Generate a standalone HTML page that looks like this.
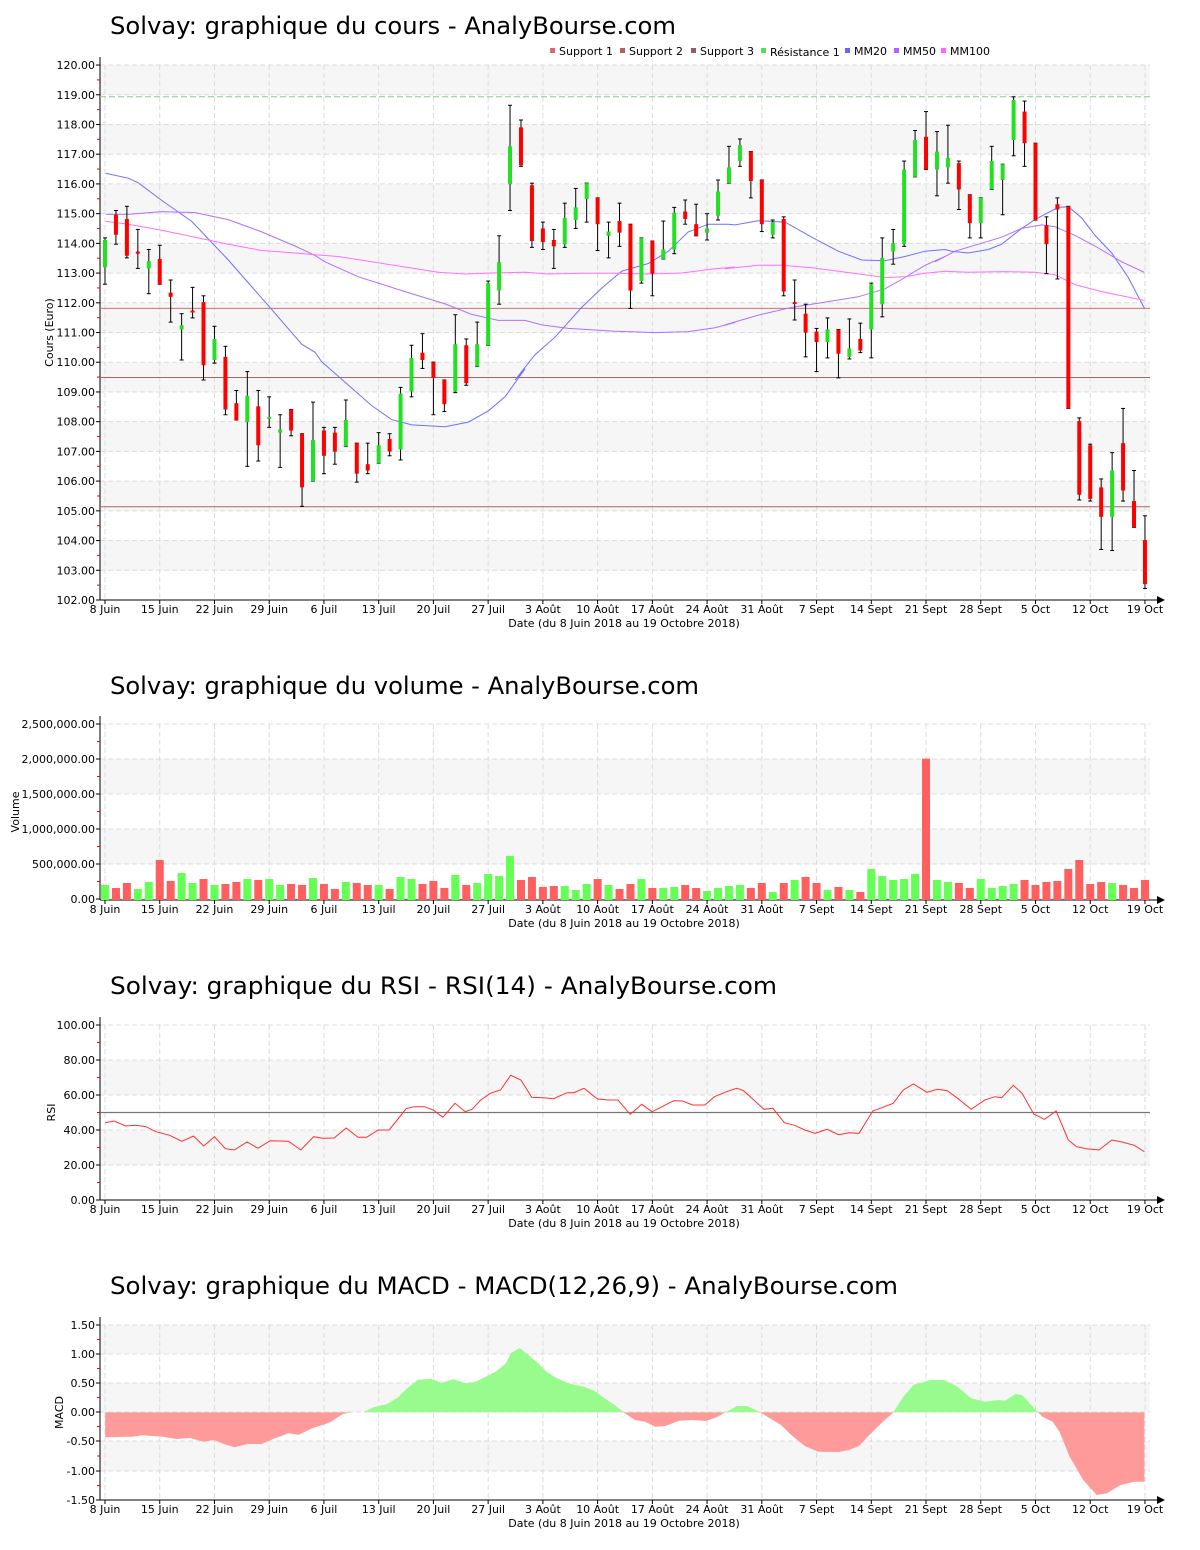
<!DOCTYPE html>
<html><head><meta charset="utf-8"><style>
html,body{margin:0;padding:0;background:#fff;}
svg{display:block;font-family:"DejaVu Sans","Liberation Sans",sans-serif;}
</style></head><body>
<svg id="s" xmlns="http://www.w3.org/2000/svg" width="1200" height="1550" viewBox="0 0 1200 1550">
<text x="110" y="34" font-size="24" textLength="566" lengthAdjust="spacingAndGlyphs">Solvay: graphique du cours - AnalyBourse.com</text>
<text x="110" y="694" font-size="24" textLength="589" lengthAdjust="spacingAndGlyphs">Solvay: graphique du volume - AnalyBourse.com</text>
<text x="110" y="994" font-size="24" textLength="667" lengthAdjust="spacingAndGlyphs">Solvay: graphique du RSI - RSI(14) - AnalyBourse.com</text>
<text x="110" y="1294" font-size="24" textLength="788" lengthAdjust="spacingAndGlyphs">Solvay: graphique du MACD - MACD(12,26,9) - AnalyBourse.com</text>
<g font-size="11">
<rect x="550" y="48" width="5" height="5" fill="#e06666"/><text x="559" y="55">Support 1</text>
<rect x="620" y="48" width="5" height="5" fill="#b06060"/><text x="629" y="55">Support 2</text>
<rect x="691" y="48" width="5" height="5" fill="#906060"/><text x="700" y="55">Support 3</text>
<rect x="761" y="48" width="5" height="5" fill="#55dd55"/><text x="770" y="56">Résistance 1</text>
<rect x="845" y="48" width="5" height="5" fill="#6666ff"/><text x="854" y="55">MM20</text>
<rect x="894" y="48" width="5" height="5" fill="#aa66ff"/><text x="903" y="55">MM50</text>
<rect x="941" y="48" width="5" height="5" fill="#ff66ff"/><text x="950" y="55">MM100</text>
</g>
</svg>
<script>
var S=document.getElementById('s'),NS='http://www.w3.org/2000/svg';
function el(t,a,txt){var e=document.createElementNS(NS,t);for(var k in a)e.setAttribute(k,a[k]);if(txt!=null)e.textContent=txt;S.appendChild(e);return e;}
function xi(i){return 105+10.947*i;}
var weeks=['8 Juin','15 Juin','22 Juin','29 Juin','6 Juil','13 Juil','20 Juil','27 Juil','3 Août','10 Août','17 Août','24 Août','31 Août','7 Sept','14 Sept','21 Sept','28 Sept','5 Oct','12 Oct','19 Oct'];
function frame(yTop,yBot,labels,bands,title,tx){
 // labels: [[y,text]]
 bands.forEach(function(b){el('rect',{x:100,y:b[0],width:1050,height:b[1]-b[0],fill:'#f6f6f6'});});
 labels.forEach(function(l){el('line',{x1:100,y1:l[0],x2:1150,y2:l[0],stroke:'#dcdcdc','stroke-dasharray':'5,3'});});
 for(var k=0;k<20;k++){var x=xi(5*k);el('line',{x1:x,y1:yTop,x2:x,y2:yBot,stroke:'#dcdcdc','stroke-dasharray':'5,3'});}
 el('line',{x1:100,y1:yTop-8,x2:100,y2:yBot,stroke:'#000'});
 for(var j=0;j<labels.length;j++){var l=labels[j];
  el('line',{x1:96,y1:l[0],x2:100,y2:l[0],stroke:'#000'});
  el('text',{x:95,y:l[0]+4,'font-size':11,'text-anchor':'end'},l[1]);
  if(j<labels.length-1){var m=(l[0]+labels[j+1][0])/2;el('line',{x1:97,y1:m,x2:100,y2:m,stroke:'#e00'});}
 }
 el('line',{x1:100,y1:yBot,x2:1158,y2:yBot,stroke:'#000'});
 el('polygon',{points:(1157)+','+(yBot-4)+' 1165,'+yBot+' '+1157+','+(yBot+4),fill:'#000'});
 for(var k=0;k<20;k++){var x=xi(5*k);el('line',{x1:x,y1:yBot,x2:x,y2:yBot+4,stroke:'#000'});
  el('text',{x:x,y:yBot+13,'font-size':11,'text-anchor':'middle'},weeks[k]);}
 el('text',{x:624,y:yBot+27,'font-size':11,'text-anchor':'middle'},'Date (du 8 Juin 2018 au 19 Octobre 2018)');
 el('text',{x:0,y:0,'font-size':11,'text-anchor':'middle',transform:'translate('+tx+','+((yTop+yBot)/2)+') rotate(-90)'},title);
}
// ---------- Candle chart ----------
function cyv(v){return 600-(v-102)*29.72;}
var lab=[],bands=[];
for(var v=120;v>=102;v--){lab.push([cyv(v),v.toFixed(2)]);}
for(var v=120;v>103;v-=2){bands.push([cyv(v),cyv(v-1)]);}
frame(65,600,lab,bands,'Cours (Euro)',53);
el('line',{x1:100,y1:96.8,x2:1150,y2:96.8,stroke:'#88cc88','stroke-dasharray':'6,3'});
el('line',{x1:100,y1:308.4,x2:1150,y2:308.4,stroke:'#d07070'});
el('line',{x1:100,y1:377.5,x2:1150,y2:377.5,stroke:'#a06868'});
el('line',{x1:100,y1:506.7,x2:1150,y2:506.7,stroke:'#b06868'});
function cz(z){return 60+z/2.85;}
function ma(pts,col){var s='';pts.forEach(function(seg){var x0=seg[0];seg[1].forEach(function(p){s+=(x0+p[0]/3).toFixed(1)+','+cz(p[1]).toFixed(1)+' ';});});
 el('polyline',{points:s,fill:'none',stroke:col,'stroke-width':1});}
ma([[95,[[32,323],[100,337],[130,350],[200,400],[290,460],[400,570],[520,700],[620,810],[660,833]]],
[305,[[50,860],[110,910],[200,985],[260,1025],[320,1040],[420,1045],[490,1032],[550,1000],[600,960],[660,880]]],
[515,[[0,912],[60,840],[120,790],[200,705],[260,650],[320,602],[400,580],[460,545],[520,490],[580,468],[640,468],[660,470]]],
[725,[[100,458],[180,462],[260,505],[340,545],[410,570],[480,572],[540,560],[600,545],[660,540]]],
[935,[[50,545],[100,550],[160,540],[200,525],[260,480],[300,455],[340,435],[370,420],[400,418],[440,450],[480,500],[530,550],[580,620],[628,707]]]],'#7070ff');
ma([[95,[[32,440],[100,440],[200,432],[300,435],[400,455],[500,490],[600,530],[660,557]]],
[305,[[60,575],[160,618],[300,660],[420,695],[500,725],[580,742],[660,742]]],
[515,[[80,755],[160,765],[300,773],[420,777],[520,774],[600,763],[660,748]]],
[725,[[0,755],[100,727],[200,705],[300,690],[400,675],[480,652],[540,620],[600,585],[660,560]]],
[935,[[0,575],[60,545],[130,525],[200,505],[260,480],[320,470],[360,475],[420,500],[480,530],[560,575],[628,605]]]],'#b070ff');
ma([[95,[[32,460],[100,468],[200,485],[300,505],[400,525],[500,543],[600,550],[660,555]]],
[305,[[100,560],[200,575],[300,590],[400,605],[480,610],[560,607],[660,605]]],
[515,[[100,610],[200,608],[300,608],[400,610],[500,607],[600,595],[660,590]]],
[725,[[0,595],[100,585],[170,585],[260,592],[340,602],[420,612],[480,620],[540,618],[600,608],[660,602]]],
[935,[[100,605],[200,603],[300,605],[360,612],[420,640],[500,660],[560,672],[628,685]]]],'#ff70ff');
var C=[['g',229,273,231,257],['r',203,235,207,226],['r',199,248,211,246],['r',221,258,242,244],['g',240,282,251,258],['r',236,273,249,273],['r',269,309,281,285],['g',301,345,312,316],['r',276,305,298,299],['r',284,364,290,350],
['g',313,348,325,345],['r',332,397,342,392],['r',374,402,386,402],['g',356,446,379,404],['r',374,441,389,426],['g',380,409,399,401],['g',397,447,411,414],['r',392,417,392,412],['r',415,484,415,466],['g',385,460,421,460],
['r',409,453,412,436],['r',409,444,414,432],['g',383,427,402,427],['r',424,461,424,453],['r',424,453,444,450],['g',414,443,426,443],['r',415,436,420,432],['g',371,440,377,430],['g',331,380,343,375],['r',320,353,338,345],
['r',347,397,347,362],['r',364,394,364,387],['g',302,376,330,375],['r',325,369,331,367],['g',309,351,330,351],['g',270,331,272,331],['g',227,292,252,279],['g',103,203,142,178],['r',117,161,124,160],['r',177,238,179,232],
['r',214,240,220,233],['r',221,258,231,237],['g',196,238,210,235],['g',182,220,200,212],['g',177,214,177,192],['r',191,241,191,216],['g',214,248,223,227],['r',196,237,213,224],['r',216,296,216,279],['g',229,272,229,270],
['r',232,284,232,263],['g',213,249,240,249],['g',200,244,205,240],['r',193,216,204,211],['r',197,227,216,227],['g',206,231,220,224],['g',174,212,185,208],['g',142,177,162,177],['g',135,161,141,156],['r',147,191,147,175],
['r',174,223,174,216],['g',212,229,214,226],['r',209,284,211,280],['r',269,307,290,291],['r',292,342,301,319],['r',315,356,318,328],['g',305,343,316,328],['r',316,362,316,339],['g',306,344,334,342],['r',310,338,325,336],
['g',272,343,273,316],['g',229,304,248,292],['g',221,254,234,242],['g',156,237,164,235],['g',127,171,136,171],['r',109,164,133,164],['g',128,189,147,164],['g',122,177,153,162],['r',156,202,158,183],['r',188,229,188,215],
['g',191,229,191,215],['g',142,183,156,183],['g',159,207,159,174],['g',95,151,98,136],['r',99,161,109,139],['r',139,212,139,212],['r',209,263,217,235],['r',191,268,197,202],['r',199,391,199,391],['r',400,478,403,473],
['r',425,479,426,477],['r',458,525,466,494],['g',433,526,450,494],['r',391,479,424,469],['r',450,504,479,504],['r',493,562,516,558]];
function fy(o){return 60+(o-60)*1.05263;}
C.forEach(function(c,i){var x=xi(i),wt=fy(c[1]),wb=fy(c[2]),bt=fy(c[3]),bb=fy(c[4]);
 el('line',{x1:x,y1:wt,x2:x,y2:wb,stroke:'#000'});
 el('line',{x1:x-2,y1:wt,x2:x+2,y2:wt,stroke:'#000'});
 el('line',{x1:x-2,y1:wb,x2:x+2,y2:wb,stroke:'#000'});
 el('rect',{x:x-2,y:bt,width:4,height:Math.max(2,bb-bt),fill:c[0]=='g'?'#22e022':'#ff0000'});
});
// ---------- Volume ----------
var vl=[[724,'2,500,000.00'],[759,'2,000,000.00'],[794,'1,500,000.00'],[829,'1,000,000.00'],[864,'500,000.00'],[899,'0.00']];
frame(724,900,vl,[[759,794],[829,864]],'Volume',19);
var V=[[135,'g'],[144,'r'],[129,'r'],[147,'g'],[126,'g'],[60,'r'],[123,'r'],[99,'g'],[129,'g'],[117,'r'],[135,'g'],[132,'r'],[126,'r'],[117,'g'],[120,'r'],[117,'g'],[135,'g'],[132,'r'],[135,'r'],[114,'g'],[132,'r'],[147,'r'],[126,'g'],[129,'r'],[135,'r'],[135,'g'],[147,'r'],[111,'g'],[117,'g'],[132,'r'],[123,'r'],[144,'r'],[105,'g'],[135,'r'],[129,'g'],[102,'g'],[108,'g'],[48,'g'],[120,'r'],[111,'r'],[141,'r'],[138,'r'],[138,'g'],[150,'g'],[132,'g'],[117,'r'],[135,'g'],[147,'r'],
[132,'r'],[117,'g'],[144,'r'],[144,'g'],[141,'g'],[135,'r'],[144,'r'],[153,'g'],[144,'g'],[138,'g'],[135,'g'],[144,'r'],[129,'r'],[156,'g'],[129,'r'],[120,'g'],[111,'r'],[129,'r'],[150,'g'],[141,'r'],[150,'g'],[156,'r'],[87,'g'],[108,'g'],[120,'g'],[117,'g'],[102,'g'],[-244,'r'],[120,'g'],[126,'g'],[129,'r'],[144,'r'],[117,'g'],[144,'g'],[138,'g'],[132,'g'],[120,'r'],[135,'r'],[126,'r'],[123,'r'],[87,'r'],[60,'r'],[132,'r'],[126,'r'],[129,'g'],[135,'r'],[144,'r'],[120,'r']];
V.forEach(function(v,i){var x=xi(i),t=840+v[0]/3;el('rect',{x:x-4,y:t,width:8,height:900-t,fill:v[1]=='g'?'#66ff55':'#ff5f5f'});});
// ---------- RSI ----------
var rl=[[1025,'100.00'],[1060,'80.00'],[1095,'60.00'],[1130,'40.00'],[1165,'20.00'],[1200,'0.00']];
frame(1025,1200,rl,[[1060,1095],[1130,1165]],'RSI',55);
el('line',{x1:100,y1:1112.5,x2:1150,y2:1112.5,stroke:'#777','stroke-width':1.2});
var R=[[15,218],[28,213],[45,228],[60,226],[75,230],[90,245],[110,256],[128,274],[145,258],[160,288],[176,260],[192,296],[205,300],[224,276],[240,295],[258,272],[285,274],[303,300],[322,260],[335,265],[352,264],[370,234],[387,262],[400,262],[417,240],[433,240],[445,210],[458,176],[470,170],[485,170],[498,180],[512,202],[530,160],[545,185],[555,178],[568,150],[582,130],[597,120],[612,76],[627,90],[643,142],[660,143],[675,146],[695,128],[705,128],[720,115],[740,147],[755,150],[770,150],[788,193],[805,163],[820,185],[835,170],[852,152],[865,153],[880,165],[898,165],[912,140],[930,125],[945,115],[955,122],[970,150],[985,178],[998,175],[1015,218],[1030,226],[1045,240],[1060,250],[1078,238],[1095,254],[1110,248],[1125,250],[1145,183],[1160,172],[1175,160],[1190,120],[1205,102],[1225,127],[1240,118],[1255,122],[1270,145],[1290,178],[1310,150],[1325,140],[1335,143],[1352,106],[1365,130],[1382,192],[1398,208],[1415,183],[1433,270],[1445,290],[1460,296],[1478,300],[1497,270],[1512,276],[1530,286],[1545,305]];
el('polyline',{points:R.map(function(p){return (95+p[0]/1.4723).toFixed(1)+','+(1050+p[1]/3).toFixed(1);}).join(' '),fill:'none',stroke:'#ff3030','stroke-width':1});
// ---------- MACD ----------
var ml=[[1325,'1.50'],[1354,'1.00'],[1383,'0.50'],[1412,'0.00'],[1441,'-0.50'],[1471,'-1.00'],[1500,'-1.50']];
frame(1325,1500,ml,[[1325,1354],[1383,1412],[1441,1471]],'MACD',63);
var M=[[15,277],[15,352],[55,350],[70,346],[100,350],[120,357],[140,354],[160,365],[175,360],[190,372],[205,382],[225,372],[245,372],[265,355],[285,340],[300,344],[320,325],[345,308],[365,282],[378,277],[395,277],[410,262],[430,252],[445,234],[460,205],[475,180],[495,176],[510,188],[528,178],[545,190],[560,186],[575,170],[590,155],[605,130],[612,100],[625,84],[635,100],[650,125],[665,155],[680,175],[700,192],[720,200],[735,212],[750,235],[765,255],[778,277],[795,300],[810,305],[825,320],[840,318],[860,302],[880,300],[900,303],[915,292],[930,275],[945,258],[960,258],[975,272],[990,290],[1010,315],[1025,345],[1045,378],[1065,395],[1095,396],[1110,390],[1125,378],[1140,345],[1160,305],[1175,278],[1190,230],[1205,195],[1230,180],[1250,180],[1270,200],[1290,235],[1310,245],[1330,240],[1340,242],[1355,222],[1365,225],[1385,270],[1395,290],[1410,305],[1420,335],[1435,410],[1455,480],[1475,525],[1490,520],[1510,495],[1530,485],[1545,485],[1545,277]];
var mp=M.map(function(p){return (95+p[0]/1.4723).toFixed(1)+','+(1320+p[1]/3).toFixed(1);}).join(' ');
var d=el('defs',{});
var c1=document.createElementNS(NS,'clipPath');c1.setAttribute('id','up');var r1=document.createElementNS(NS,'rect');r1.setAttribute('x',100);r1.setAttribute('y',1300);r1.setAttribute('width',1060);r1.setAttribute('height',112.4);c1.appendChild(r1);d.appendChild(c1);
var c2=document.createElementNS(NS,'clipPath');c2.setAttribute('id','dn');var r2=document.createElementNS(NS,'rect');r2.setAttribute('x',100);r2.setAttribute('y',1412.4);r2.setAttribute('width',1060);r2.setAttribute('height',100);c2.appendChild(r2);d.appendChild(c2);
el('polygon',{points:mp,fill:'#98fb8e','clip-path':'url(#up)'});
el('polygon',{points:mp,fill:'#ff9a9a','clip-path':'url(#dn)'});
</script>
</body></html>
